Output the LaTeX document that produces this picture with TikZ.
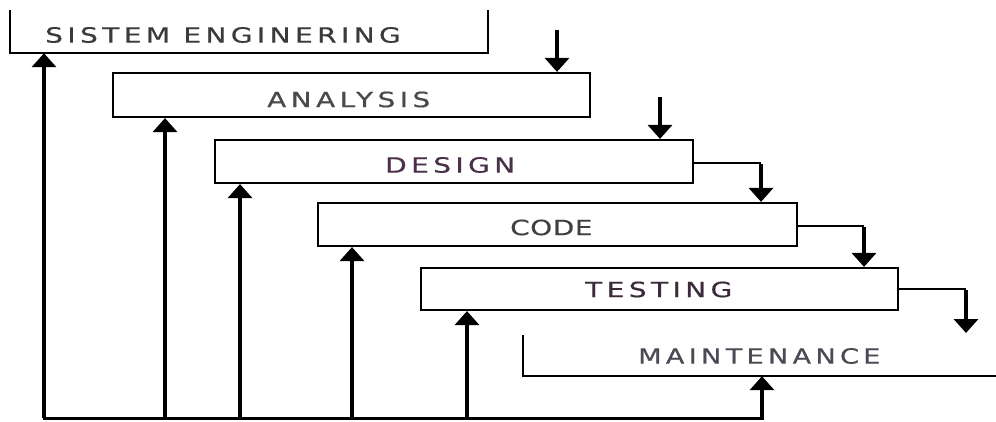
\documentclass[tikz,border=0pt]{standalone}
\usepackage{fontspec}
\usepackage{graphicx}
\usetikzlibrary{arrows.meta}
\newfontfamily\stagefont[LetterSpace=16,FakeBold=0.6]{DejaVu Sans}
\newfontfamily\tightstagefont[LetterSpace=2,FakeBold=0.6]{DejaVu Sans}
% stage names are set wide, like the stretched lettering of the chart
\newcommand\widename[1]{\scalebox{1.33}[1]{#1}}

\definecolor{sysc}{HTML}{3A3A3A}
\definecolor{anac}{HTML}{4A4A4A}
\definecolor{desc}{HTML}{4A3048}
\definecolor{codec}{HTML}{404040}
\definecolor{testc}{HTML}{3A2A3A}
\definecolor{maintc}{HTML}{4A4A55}

\tikzset{
  stagebox/.style={draw=black, line width=2.2pt, rectangle, inner sep=0pt, minimum width=#1},
  stageframe/.style={draw=none, rectangle, inner sep=0pt, minimum width=#1},
  stagetext/.style={anchor=west, inner sep=0pt, font=\stagefont\fontsize{21}{21}\selectfont},
  tightstagetext/.style={anchor=west, inner sep=0pt, font=\tightstagefont\fontsize{21}{21}\selectfont},
  flow/.style={line width=4.8pt, -{Triangle[width=24pt,length=14pt]}},
  link/.style={line width=2.2pt},
  frameline/.style={line width=2.2pt},
  baseline/.style={line width=3pt}
}

\begin{document}
\begin{tikzpicture}[x=1pt,y=-1pt]
  \useasboundingbox (0,0) rectangle (996,422);

  % stage boxes
  \node[stageframe=478pt, minimum height=43pt] (sys)   at (249,31.5)  {};
  \node[stagebox=477pt,   minimum height=44pt] (ana)   at (351.5,95)  {};
  \node[stagebox=478pt,   minimum height=43pt] (des)   at (454,161.5) {};
  \node[stagebox=479pt,   minimum height=43pt] (code)  at (557.5,224.5) {};
  \node[stagebox=477pt,   minimum height=42pt] (test)  at (659.5,289) {};
  \node[stageframe=480pt, minimum height=41pt] (maint) at (763,355.5) {};

  % open frames of the first and last stage
  \draw[frameline] (sys.north west) -- (sys.south west) -- (sys.south east) -- (sys.north east);
  \draw[frameline] (maint.north west) -- (maint.south west) -- ([xshift=10pt]maint.south east);

  % stage names
  \node[stagetext, text=sysc]   (sysL)   at (45,35)    {\widename{SISTEM ENGINERING}};
  \node[stagetext, text=anac]   (anaL)   at (267,99.5) {\widename{ANALYSIS}};
  \node[stagetext, text=desc]   (desL)   at (385,165)  {\widename{DESIGN}};
  \node[tightstagetext, text=codec] (codeL) at (510,227.5){\widename{CODE}};
  \node[stagetext, text=testc]  (testL)  at (585,289.5){\widename{TESTING}};
  \node[stagetext, text=maintc] (maintL) at (638,356)  {\scalebox{1.29}[1]{MAINTENANCE}};

  % inputs from above
  \coordinate (inA) at (557,30);
  \coordinate (inD) at (660,97);
  \draw[flow] (inA) -- (inA |- ana.north);
  \draw[flow] (inD) -- (inD |- des.north);

  % hand-over from one stage to the next
  \coordinate (kDC) at (761,0);
  \coordinate (kCT) at (864,0);
  \coordinate (kTM) at (966,0);
  \coordinate (tEnd) at (966,333);
  \draw[link] ([yshift=-1.5pt]des.east) -- ([yshift=-1.5pt]des.east -| kDC);
  \draw[flow] ([yshift=-2.5pt]des.east -| kDC) -- (kDC |- code.north);
  \draw[link] ([yshift=-1.5pt]code.east) -- ([yshift=-1.5pt]code.east -| kCT);
  \draw[flow] ([yshift=-2.5pt]code.east -| kCT) -- (kCT |- test.north);
  \draw[link] (test.east) -- (test.east -| kTM);
  \draw[flow] ([yshift=-1pt]test.east -| kTM) -- (tEnd);

  % feedback bus along the bottom
  \coordinate (b1) at (44,418);
  \coordinate (b2) at (165,418);
  \coordinate (b3) at (240,418);
  \coordinate (b4) at (352,418);
  \coordinate (b5) at (467,418);
  \coordinate (b6) at (762,418);
  \draw[baseline] ([xshift=-1.5pt]b1) -- ([xshift=1.5pt]b6);
  \draw[flow] (b1) -- (b1 |- sys.south);
  \draw[flow] (b2) -- (b2 |- ana.south);
  \draw[flow] (b3) -- (b3 |- des.south);
  \draw[flow] (b4) -- (b4 |- code.south);
  \draw[flow] (b5) -- (b5 |- test.south);
  \draw[flow] (b6) -- (b6 |- maint.south);
\end{tikzpicture}
\end{document}
